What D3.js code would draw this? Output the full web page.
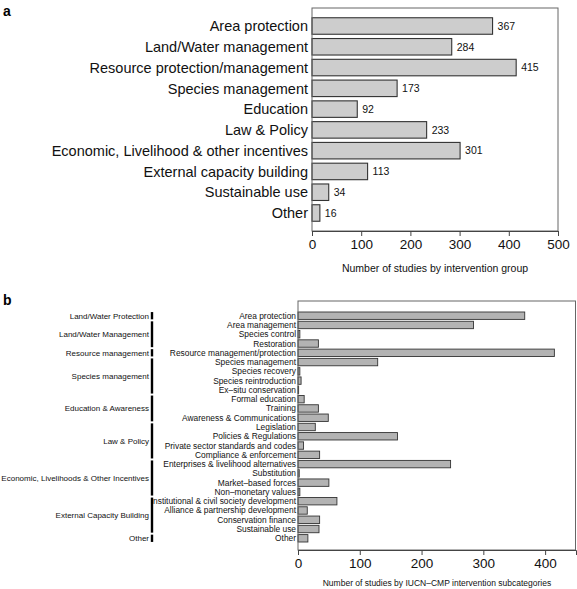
<!DOCTYPE html>
<html><head><meta charset="utf-8">
<script src="https://cdn.jsdelivr.net/npm/d3@7"></script>
<style>
body{margin:0;background:#fff;}
svg{display:block;font-family:"Liberation Sans",Arial,Helvetica,sans-serif;}
</style></head>
<body>
<svg id="chart" width="577" height="589"></svg>
<script>
// Panel a data
const groupsA = ["Area protection","Land/Water management","Resource protection/management","Species management","Education","Law & Policy","Economic, Livelihood & other incentives","External capacity building","Sustainable use","Other"];
const valuesA = [367,284,415,173,92,233,301,113,34,16];
const ticksA = [0,100,200,300,400,500];

// Panel b data
const subcats = ["Area protection","Area management","Species control","Restoration","Resource management/protection","Species management","Species recovery","Species reintroduction","Ex\u2013situ conservation","Formal education","Training","Awareness & Communications","Legislation","Policies & Regulations","Private sector standards and codes","Compliance & enforcement","Enterprises & livelihood alternatives","Substitution","Market\u2013based forces","Non\u2013monetary values","Institutional & civil society development","Alliance & partnership development","Conservation finance","Sustainable use","Other"];
const valuesB = [367,284,3,33,415,129,3,5,1,10,33,49,28,161,9,35,247,2,50,3,63,15,35,34,16];
const groupNamesB = ["Land/Water Protection","Land/Water Management","Resource management","Species management","Education & Awareness","Law & Policy","Economic, Livelihoods & Other Incentives","External Capacity Building","Other"];
const groupSizesB = [1,3,1,4,3,4,4,4,1];
const ticksB = [0,100,200,300,400];

const svg = d3.select("#chart");

// ---------- Panel a ----------
const xA = d3.scaleLinear().domain([0,500]).range([312,558]);
const yA = d3.scalePoint().domain(groupsA).range([26,213]);
const bhA = 16.5;

svg.append("text").attr("x",3).attr("y",16).attr("font-size",14).attr("font-weight","bold").text("a");

const gA = svg.append("g");
gA.selectAll("rect.bar").data(groupsA).join("rect")
  .attr("x",xA(0)).attr("y",d=>yA(d)-bhA/2)
  .attr("width",(d,i)=>xA(valuesA[i])-xA(0)).attr("height",bhA)
  .attr("fill","#cdcdcd").attr("stroke","#333").attr("stroke-width",1.1);
gA.selectAll("text.lab").data(groupsA).join("text")
  .attr("x",308).attr("y",d=>yA(d)).attr("dy","0.36em")
  .attr("text-anchor","end").attr("font-size",14.5).attr("fill","#111").text(d=>d);
gA.selectAll("text.val").data(groupsA).join("text")
  .attr("x",(d,i)=>xA(valuesA[i])+5).attr("y",d=>yA(d)).attr("dy","0.36em")
  .attr("font-size",10.5).attr("fill","#111").text((d,i)=>valuesA[i]);
// box
gA.append("rect").attr("x",xA(0)).attr("y",8).attr("width",xA(500)-xA(0)).attr("height",231-8)
  .attr("fill","none").attr("stroke","#666").attr("stroke-width",1);
const axA = gA.append("g").attr("transform","translate(0,231)")
  .call(d3.axisBottom(xA).tickValues(ticksA).tickSize(5).tickPadding(3).tickFormat(d3.format("d")));
axA.select(".domain").attr("stroke","#444");
axA.selectAll(".tick line").attr("stroke","#444");
axA.selectAll("text").attr("font-size",13.5).attr("font-family","Liberation Sans, Arial, sans-serif").attr("fill","#111");
gA.append("text").attr("x",435).attr("y",272).attr("text-anchor","middle").attr("font-size",10.5).attr("fill","#111")
  .text("Number of studies by intervention group");

// ---------- Panel b ----------
const xB = d3.scaleLinear().domain([0,450]).range([298,576]);
const yB = d3.scalePoint().domain(subcats).range([315.7,538.3]);
const bhB = 7.4;

svg.append("text").attr("x",3).attr("y",305).attr("font-size",14).attr("font-weight","bold").text("b");

const gB = svg.append("g");
gB.selectAll("rect.bar").data(subcats).join("rect")
  .attr("x",xB(0)).attr("y",d=>yB(d)-bhB/2)
  .attr("width",(d,i)=>xB(valuesB[i])-xB(0)).attr("height",bhB)
  .attr("fill","#b3b3b3").attr("stroke","#333").attr("stroke-width",0.9);
gB.selectAll("text.lab").data(subcats).join("text")
  .attr("x",296).attr("y",d=>yB(d)).attr("dy","0.36em")
  .attr("text-anchor","end").attr("font-size",8.4).attr("fill","#111").text(d=>d);
gB.append("rect").attr("x",xB(0)).attr("y",301).attr("width",xB(450)-xB(0)-0.5).attr("height",550-301)
  .attr("fill","none").attr("stroke","#666").attr("stroke-width",1);
const axB = gB.append("g").attr("transform","translate(0,550)")
  .call(d3.axisBottom(xB).tickValues(ticksB).tickSize(5).tickPadding(3).tickFormat(d3.format("d")));
axB.select(".domain").attr("stroke","#444");
axB.selectAll(".tick line").attr("stroke","#444");
axB.selectAll("text").attr("font-size",13.5).attr("font-family","Liberation Sans, Arial, sans-serif").attr("fill","#111");
gB.append("text").attr("x",437).attr("y",586).attr("text-anchor","middle").attr("font-size",8.5).attr("fill","#111")
  .text("Number of studies by IUCN\u2013CMP intervention subcategories");

// group brackets
let start = 0;
const step = yB.step();
groupNamesB.forEach((name,gi)=>{
  const first = subcats[start], last = subcats[start+groupSizesB[gi]-1];
  const y0 = yB(first)-step/2+1, y1 = yB(last)+step/2-1;
  gB.append("line").attr("x1",152).attr("x2",152).attr("y1",y0).attr("y2",y1)
    .attr("stroke","#000").attr("stroke-width",2.4);
  gB.append("text").attr("x",149).attr("y",(yB(first)+yB(last))/2).attr("dy","0.36em")
    .attr("text-anchor","end").attr("font-size",8).attr("fill","#111").text(name);
  start += groupSizesB[gi];
});
</script>
</body></html>
